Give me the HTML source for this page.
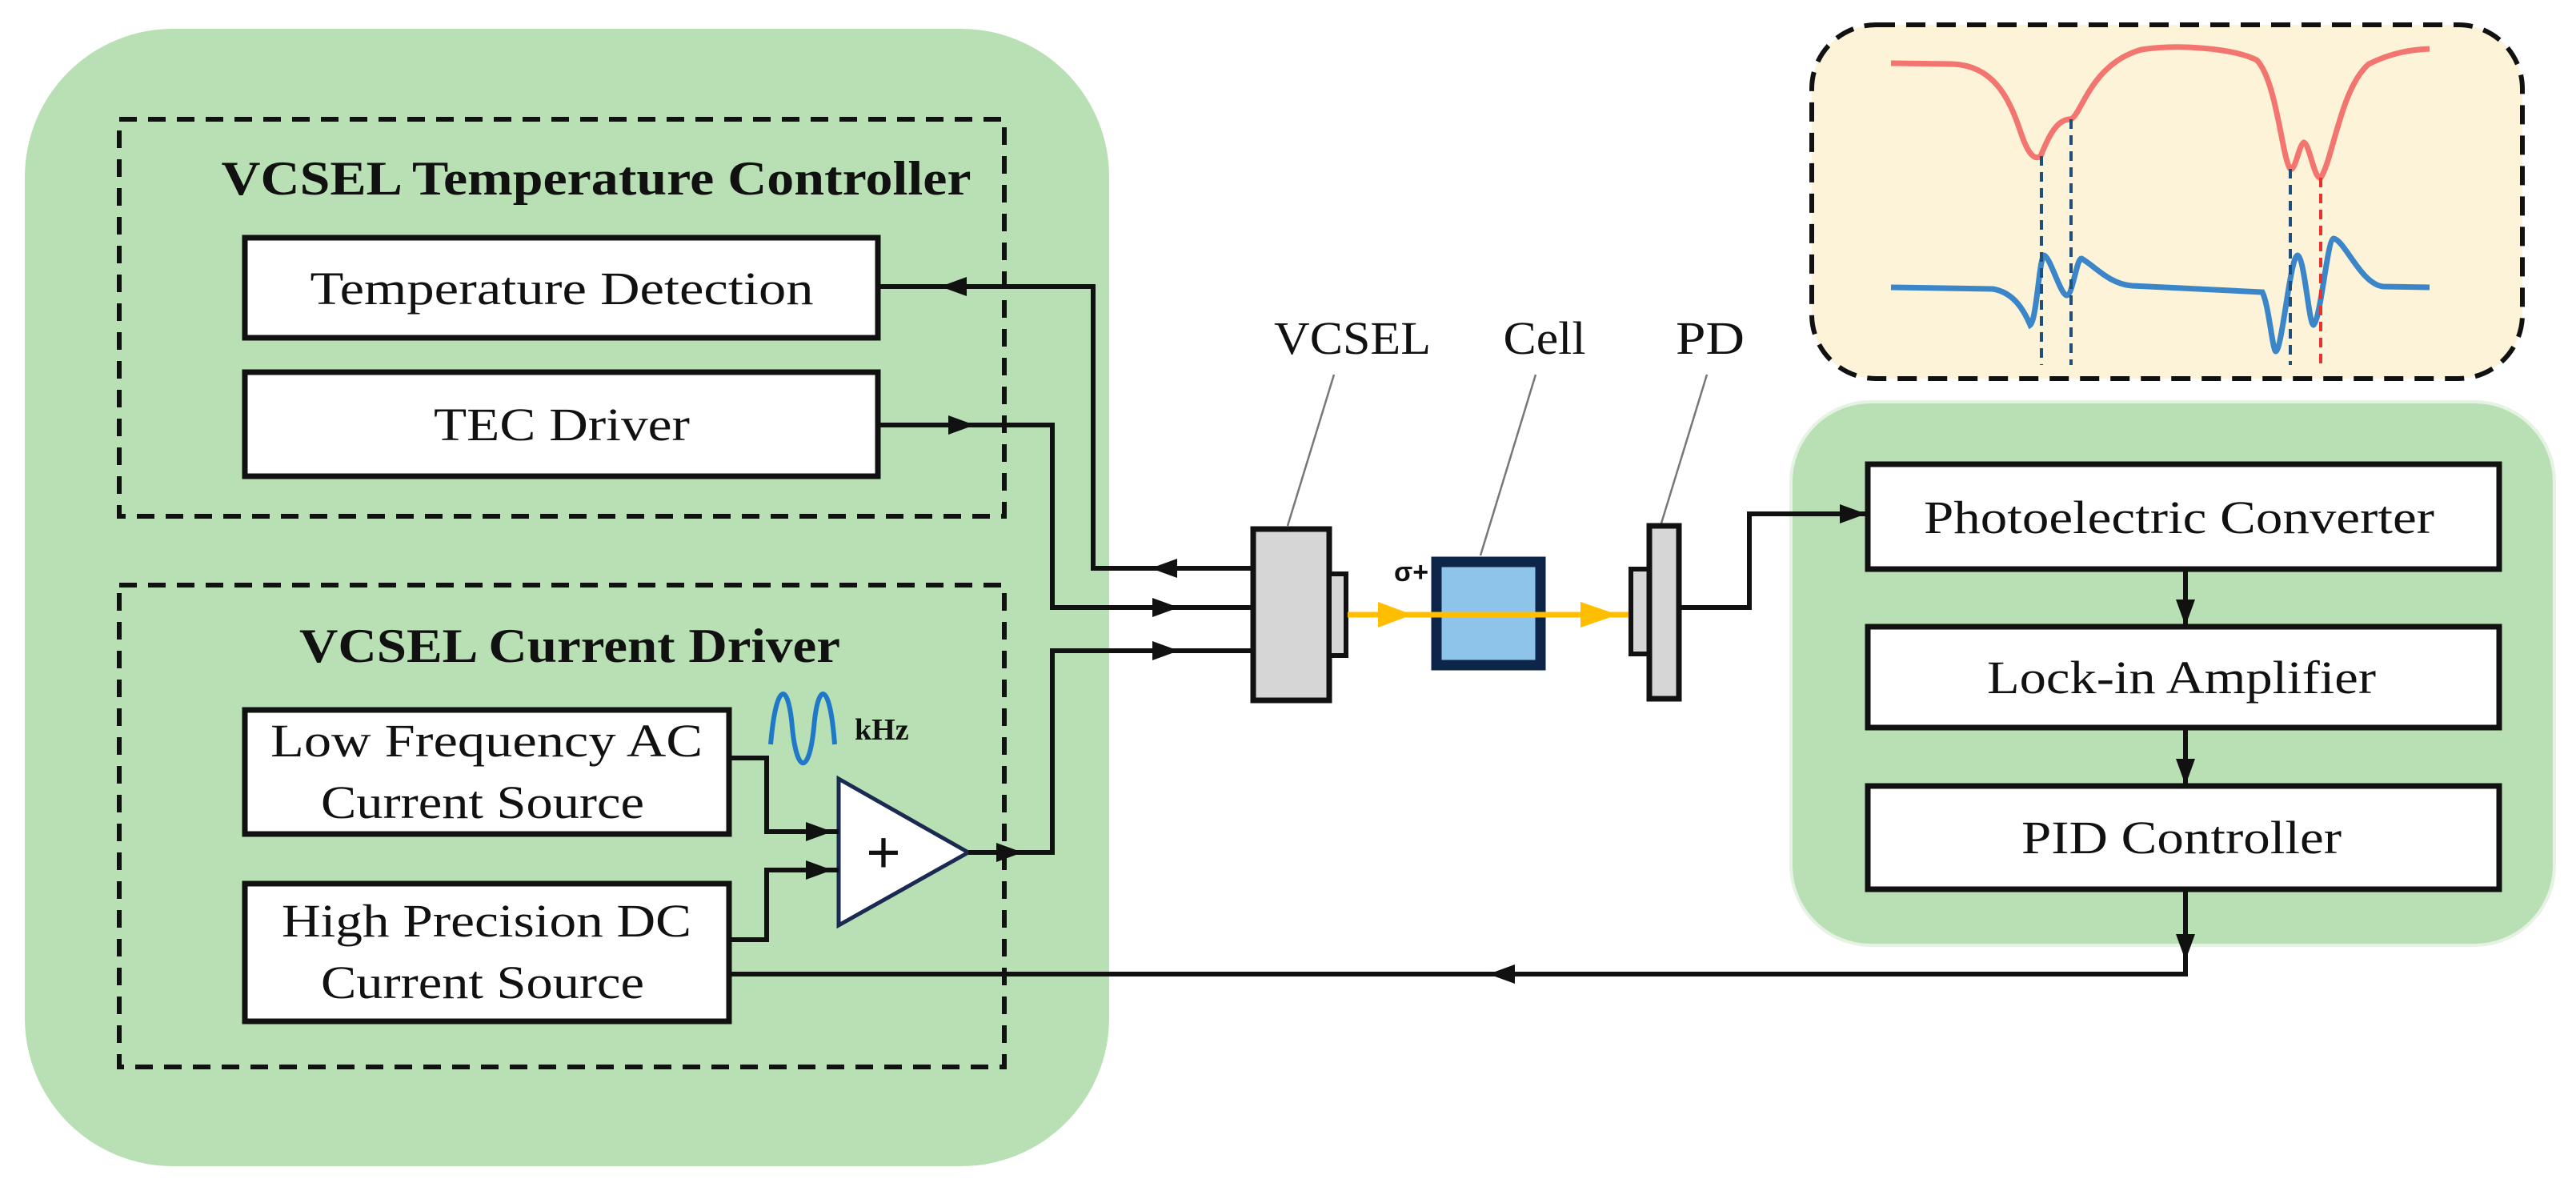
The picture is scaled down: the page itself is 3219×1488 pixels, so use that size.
<!DOCTYPE html>
<html><head><meta charset="utf-8"><style>html,body{margin:0;padding:0;background:#fff}svg{display:block}</style></head>
<body>
<svg width="3219" height="1488" viewBox="0 0 3219 1488" xmlns="http://www.w3.org/2000/svg" font-family="Liberation Serif, serif">
<!-- green panels -->
<rect x="31" y="36" width="1355" height="1421" rx="185" fill="#b9e0b4"/>
<rect x="2238" y="502" width="954" height="679" rx="100" fill="#b9e0b4" stroke="#e6f2e4" stroke-width="4"/>
<!-- inset -->
<rect x="2264" y="31" width="888" height="442" rx="80" fill="#fdf3d9" stroke="#111" stroke-width="6" stroke-dasharray="24 14"/>
<!-- dashed boxes -->
<rect x="149" y="149" width="1106" height="496" fill="none" stroke="#111" stroke-width="6" stroke-dasharray="22 14"/>
<rect x="149" y="731" width="1106" height="602" fill="none" stroke="#111" stroke-width="6" stroke-dasharray="22 14"/>
<text x="745" y="243" font-size="60" font-weight="bold" text-anchor="middle" textLength="937" lengthAdjust="spacingAndGlyphs" fill="#111">VCSEL Temperature Controller</text>
<text x="712" y="827" font-size="60" font-weight="bold" text-anchor="middle" textLength="676" lengthAdjust="spacingAndGlyphs" fill="#111">VCSEL Current Driver</text>
<!-- boxes -->
<g fill="#fff" stroke="#111" stroke-width="7">
<rect x="306" y="297" width="791" height="125"/>
<rect x="306" y="465" width="791" height="130"/>
<rect x="306" y="887" width="605" height="155"/>
<rect x="306" y="1104" width="605" height="172"/>
<rect x="2334" y="580" width="789" height="131"/>
<rect x="2334" y="783" width="789" height="126"/>
<rect x="2334" y="982" width="789" height="129"/>
</g>
<g font-size="58" fill="#111" text-anchor="middle">
<text x="702" y="380" textLength="629" lengthAdjust="spacingAndGlyphs">Temperature Detection</text>
<text x="702" y="550" textLength="320" lengthAdjust="spacingAndGlyphs">TEC Driver</text>
<text x="608" y="945" textLength="540" lengthAdjust="spacingAndGlyphs">Low Frequency AC</text>
<text x="603" y="1022" textLength="404" lengthAdjust="spacingAndGlyphs">Current Source</text>
<text x="608" y="1170" textLength="512" lengthAdjust="spacingAndGlyphs">High Precision DC</text>
<text x="603" y="1247" textLength="404" lengthAdjust="spacingAndGlyphs">Current Source</text>
<text x="2723" y="666" textLength="638" lengthAdjust="spacingAndGlyphs">Photoelectric Converter</text>
<text x="2726" y="866" textLength="486" lengthAdjust="spacingAndGlyphs">Lock-in Amplifier</text>
<text x="2726" y="1066" textLength="400" lengthAdjust="spacingAndGlyphs">PID Controller</text>
<text x="1690" y="442" textLength="196" lengthAdjust="spacingAndGlyphs">VCSEL</text>
<text x="1930" y="442" textLength="103" lengthAdjust="spacingAndGlyphs">Cell</text>
<text x="2137" y="442" textLength="86" lengthAdjust="spacingAndGlyphs">PD</text>
</g>
<!-- leader lines -->
<g stroke="#777" stroke-width="2.5">
<line x1="1667" y1="468" x2="1609" y2="657"/>
<line x1="1919" y1="468" x2="1850" y2="694"/>
<line x1="2133" y1="468" x2="2075" y2="657"/>
</g>
<!-- amplifier -->
<polygon points="1048,973 1048,1156 1210,1065" fill="#fff" stroke="#1a2a50" stroke-width="5"/>
<text x="1104" y="1090" font-family="Liberation Sans, sans-serif" font-size="74" text-anchor="middle" fill="#111">+</text>
<path d="M963,930 C970,850 985,850 990,909 C996,968 1011,968 1017,909 C1022,850 1037,850 1043,930" fill="none" stroke="#1f78c8" stroke-width="6"/>
<text x="1068" y="924" font-size="38" font-weight="bold" fill="#111">kHz</text>
<!-- connectors -->
<g fill="none" stroke="#111" stroke-width="6">
<polyline points="1097,358 1366,358 1366,710 1566,710"/>
<polyline points="1097,531 1315,531 1315,759 1566,759"/>
<polyline points="1210,1065 1315,1065 1315,813 1566,813"/>
<polyline points="911,947 958,947 958,1039 1048,1039"/>
<polyline points="911,1174 958,1174 958,1087 1048,1087"/>
<polyline points="2731,1111 2731,1217 911,1217"/>
<line x1="2731" y1="711" x2="2731" y2="783"/>
<line x1="2731" y1="909" x2="2731" y2="982"/>
<polyline points="2098,759 2186,759 2186,642 2334,642"/>
</g>
<!-- arrowheads -->
<g fill="#111">
<polygon points="1175,358 1208,346 1208,370"/>
<polygon points="1438,710 1471,698 1471,722"/>
<polygon points="1218,531 1185,519 1185,543"/>
<polygon points="1473,759 1440,747 1440,771"/>
<polygon points="1473,813 1440,801 1440,825"/>
<polygon points="1278,1065 1245,1053 1245,1077"/>
<polygon points="1040,1039 1007,1027 1007,1051"/>
<polygon points="1040,1087 1007,1075 1007,1099"/>
<polygon points="2731,1200 2719,1167 2743,1167"/>
<polygon points="1860,1217 1893,1205 1893,1229"/>
<polygon points="2731,782 2719,749 2743,749"/>
<polygon points="2731,981 2719,948 2743,948"/>
<polygon points="2332,642 2299,630 2299,654"/>
</g>
<!-- optics -->
<rect x="1566" y="661" width="95" height="214" fill="#d6d6d6" stroke="#111" stroke-width="7"/>
<rect x="1661" y="717" width="21" height="102" fill="#d6d6d6" stroke="#111" stroke-width="6"/>
<rect x="1795" y="702" width="130" height="129" fill="#8ec3ea" stroke="#0d2548" stroke-width="13"/>
<line x1="1684" y1="768" x2="2036" y2="768" stroke="#ffbf00" stroke-width="7"/>
<polygon points="1722,752 1765,768 1722,784" fill="#ffbf00"/>
<polygon points="1975,752 2022,768 1975,784" fill="#ffbf00"/>
<text x="1742" y="726" font-family="Liberation Sans, sans-serif" font-size="34" font-weight="bold" fill="#111">σ+</text>
<rect x="2038" y="711" width="23" height="106" fill="#d6d6d6" stroke="#111" stroke-width="6"/>
<rect x="2061" y="657" width="37" height="216" fill="#d6d6d6" stroke="#111" stroke-width="7"/>
<!-- inset curves -->
<path d="M2363,79 L2440,80 C2490,82 2510,120 2525,165 C2535,195 2543,200 2550,195 C2560,170 2570,150 2586,149 C2600,150 2610,80 2676,62 C2720,55 2790,60 2820,75 C2845,100 2852,200 2862,211 C2868,215 2873,180 2879,178 C2886,180 2892,225 2900,222 C2915,200 2925,110 2960,80 C2990,65 3015,62 3036,61" fill="none" stroke="#f2756f" stroke-width="7"/>
<path d="M2363,359 L2490,361 C2515,365 2528,385 2537,406 C2545,400 2548,325 2554,319 C2562,320 2575,370 2583,369 C2590,368 2595,323 2601,323 C2615,330 2635,355 2664,357 L2827,365 C2835,380 2840,440 2844,439 C2852,435 2862,320 2871,319 C2880,322 2885,405 2891,406 C2900,400 2908,300 2916,298 C2930,300 2950,355 2978,358 L3036,359" fill="none" stroke="#3b86c9" stroke-width="7"/>
<g stroke-width="4" stroke-dasharray="12 8">
<line x1="2551" y1="195" x2="2551" y2="456" stroke="#1f4f7a"/>
<line x1="2588" y1="149" x2="2588" y2="456" stroke="#1f4f7a"/>
<line x1="2862" y1="211" x2="2862" y2="456" stroke="#1f4f7a"/>
<line x1="2900" y1="222" x2="2900" y2="456" stroke="#e8322e"/>
</g>
</svg>
</body></html>
